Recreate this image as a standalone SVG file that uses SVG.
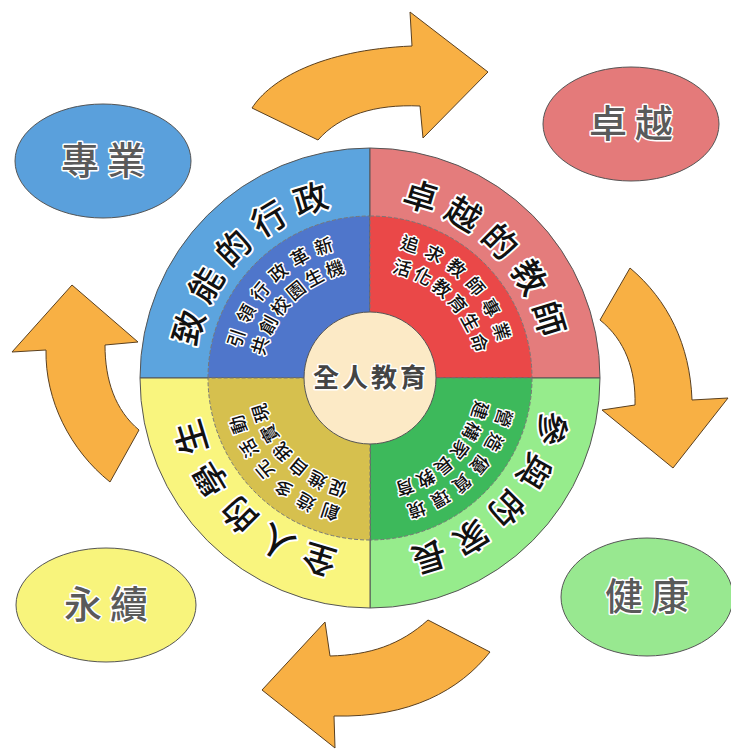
<svg xmlns="http://www.w3.org/2000/svg" xmlns:xlink="http://www.w3.org/1999/xlink" width="731" height="749" viewBox="0 0 731 749">
<defs>
<style>
.arrow{fill:#F8B044;stroke:#5a4020;stroke-width:1}
.ell{stroke:#555;stroke-width:1}
.sec{stroke:#555;stroke-width:1}
.inner{stroke:#777;stroke-width:1;stroke-dasharray:4 2}
.cjk{font-family:"Noto Sans CJK TC","Noto Sans CJK SC",sans-serif}
.outer{font-size:34px;font-weight:500;fill:#111;stroke:#fff;stroke-width:4;paint-order:stroke;stroke-linejoin:round;letter-spacing:9px}
.in1{font-size:18px;font-weight:500;fill:#111;stroke:#fff;stroke-width:3;paint-order:stroke;stroke-linejoin:round;letter-spacing:7px}
.in2{font-size:18px;font-weight:500;fill:#111;stroke:#fff;stroke-width:3;paint-order:stroke;stroke-linejoin:round;letter-spacing:3px}
.elltxt{font-size:38px;font-weight:500;fill:#5a5a5a;stroke:#fff;stroke-width:3;paint-order:stroke;stroke-linejoin:round;letter-spacing:8px}
.ctr{font-size:26px;font-weight:700;fill:#444;stroke:#fff;stroke-width:3;paint-order:stroke;stroke-linejoin:round;letter-spacing:3px}
</style>
<path id="pOuter" d="M 194,378 A 176 176 0 1 1 546,378 A 176 176 0 1 1 194,378" fill="none"/>
<path id="pIn1" d="M 237,378 A 133 133 0 1 1 503,378 A 133 133 0 1 1 237,378" fill="none"/>
<path id="pIn2" d="M 262,378 A 108 108 0 1 1 478,378 A 108 108 0 1 1 262,378" fill="none"/>
</defs>
<rect width="731" height="749" fill="#fff"/>

<g id="connectors">
<path class="arrow" d="M 252,108 C 270,80 320,50 412,46 L 410,12 L 488,72 L 423,138 L 420,106 C 375,104 340,115 318,140 Z"/>
<path class="arrow" d="M 630,268 C 668,300 690,345 692,400 L 728,398 L 673,468 L 602,410 L 635,405 C 636,370 625,340 600,320 Z"/>
<path class="arrow" d="M 428,620 C 400,645 370,655 330,656 L 325,622 L 262,690 L 335,748 L 334,716 C 410,718 460,690 490,652 Z"/>
<path class="arrow" d="M 72,285 L 138,342 L 105,345 C 105,380 115,410 139,430 L 110,482 C 70,450 45,400 46,350 L 12,352 Z"/>
</g>

<g id="node-zhuanye">
<ellipse class="ell" cx="103" cy="161" rx="88" ry="57" fill="#5AA0DC"/>
<text class="cjk elltxt" x="107" y="174" text-anchor="middle">專業</text>
</g>
<g id="node-zhuoyue">
<ellipse class="ell" cx="631" cy="124" rx="88" ry="57" fill="#E47A7A"/>
<text class="cjk elltxt" x="635" y="137" text-anchor="middle">卓越</text>
</g>
<g id="node-jiankang">
<ellipse class="ell" cx="647" cy="597" rx="86" ry="59" fill="#98E890"/>
<text class="cjk elltxt" x="651" y="610" text-anchor="middle">健康</text>
</g>
<g id="node-yongxu">
<ellipse class="ell" cx="106" cy="605" rx="90" ry="57" fill="#F8F47C"/>
<text class="cjk elltxt" x="110" y="618" text-anchor="middle">永續</text>
</g>

<g id="node-admin">
<path class="sec" d="M 140,378 A 230 230 0 0 1 370,148 L 370,378 Z" fill="#5CA4DE"/>
<path class="inner" d="M 208,378 A 162 162 0 0 1 370,216 L 370,378 Z" fill="#4F76CB"/>
<text class="cjk outer"><textPath xlink:href="#pOuter" startOffset="12.5%" text-anchor="middle">致能的行政</textPath></text>
<text class="cjk in1"><textPath xlink:href="#pIn1" startOffset="12.5%" text-anchor="middle">引領行政革新</textPath></text>
<text class="cjk in2"><textPath xlink:href="#pIn2" startOffset="12.5%" text-anchor="middle">共創校園生機</textPath></text>
</g>
<g id="node-teacher">
<path class="sec" d="M 370,148 A 230 230 0 0 1 600,378 L 370,378 Z" fill="#E47C7C"/>
<path class="inner" d="M 370,216 A 162 162 0 0 1 532,378 L 370,378 Z" fill="#EA4848"/>
<text class="cjk outer"><textPath xlink:href="#pOuter" startOffset="37.5%" text-anchor="middle">卓越的教師</textPath></text>
<text class="cjk in1"><textPath xlink:href="#pIn1" startOffset="37.5%" text-anchor="middle">追求教師專業</textPath></text>
<text class="cjk in2"><textPath xlink:href="#pIn2" startOffset="37.5%" text-anchor="middle">活化教育生命</textPath></text>
</g>
<g id="node-parent">
<path class="sec" d="M 600,378 A 230 230 0 0 1 370,608 L 370,378 Z" fill="#96EC8C"/>
<path class="inner" d="M 532,378 A 162 162 0 0 1 370,540 L 370,378 Z" fill="#3DB95B"/>
<text class="cjk outer"><textPath xlink:href="#pOuter" startOffset="62.5%" text-anchor="middle">參與的家長</textPath></text>
<text class="cjk in1"><textPath xlink:href="#pIn1" startOffset="62.5%" text-anchor="middle">營造優質環境</textPath></text>
<text class="cjk in2"><textPath xlink:href="#pIn2" startOffset="62.5%" text-anchor="middle">建構家長教育</textPath></text>
</g>
<g id="node-student">
<path class="sec" d="M 370,608 A 230 230 0 0 1 140,378 L 370,378 Z" fill="#F9F57E"/>
<path class="inner" d="M 370,540 A 162 162 0 0 1 208,378 L 370,378 Z" fill="#D6C04E"/>
<text class="cjk outer"><textPath xlink:href="#pOuter" startOffset="87.5%" text-anchor="middle">全人的學生</textPath></text>
<text class="cjk in1"><textPath xlink:href="#pIn1" startOffset="87.5%" text-anchor="middle">創造多元活動</textPath></text>
<text class="cjk in2"><textPath xlink:href="#pIn2" startOffset="87.5%" text-anchor="middle">促進自我實現</textPath></text>
</g>

<g id="node-center">
<circle cx="370" cy="378" r="66" fill="#FCEAC6" stroke="#555" stroke-width="1"/>
<text class="cjk ctr" x="371" y="387" text-anchor="middle">全人教育</text>
</g>
</svg>
